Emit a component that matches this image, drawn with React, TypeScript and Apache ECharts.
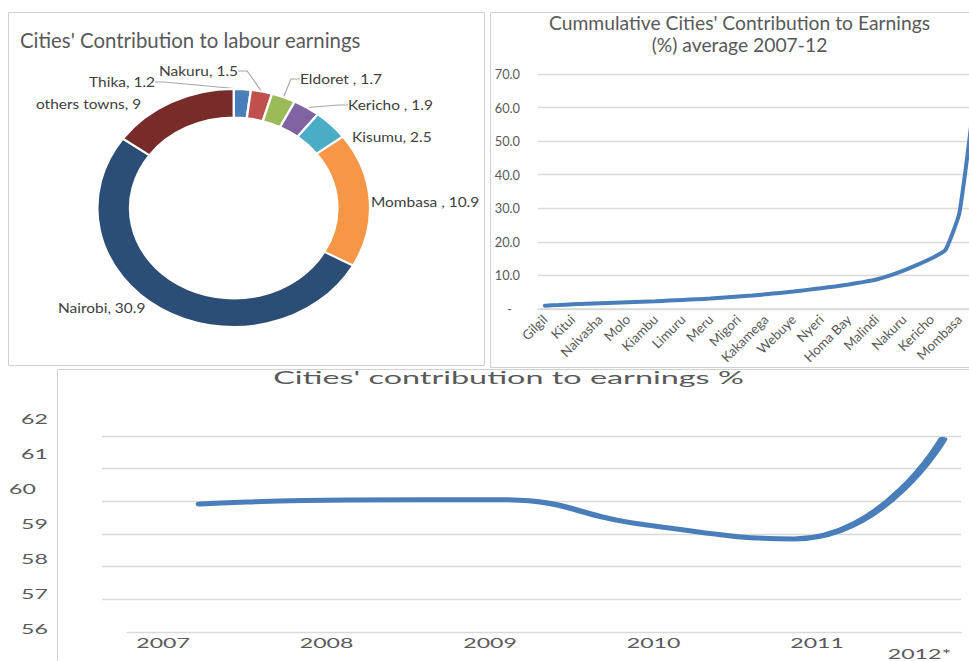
import React, { useEffect, useRef } from 'react';
import * as echarts from 'echarts';

const FONT = 'Lato, "Open Sans", sans-serif';
const TEXT = '#595959';
const LABEL = '#404040';
const GRID = '#d9d9d9';
const FRAME = '#d0d0d0';
const BLUE = '#4a7ebb';

// ---- Panel 1: donut
const pieNames = ['Thika', 'Nakuru', 'Eldoret ', 'Kericho ', 'Kisumu', 'Mombasa ', 'Nairobi', 'others towns'];
const pieValues = [1.2, 1.5, 1.7, 1.9, 2.5, 10.9, 30.9, 9];
const pieColors = ['#4a7ebb', '#c0504d', '#9bbb59', '#8064a2', '#4bacc6', '#f79646', '#2c4d75', '#772c2a'];
const pieWithLine = [true, true, true, true, false, false, false, false];

// ---- Panel 2: cumulative
const townNames = [
  'Gilgil', '', 'Kitui', '', 'Naivasha', '', 'Molo', '', 'Kiambu', '', 'Limuru', '', 'Meru', '', 'Migori', '',
  'Kakamega', '', 'Webuye', '', 'Nyeri', '', 'Homa Bay', '', 'Malindi', 'Thika', 'Nakuru', 'Eldoret', 'Kericho',
  'Kisumu', 'Mombasa', 'Nairobi',
];
const cumulative = [
  1.0, 1.2, 1.4, 1.55, 1.7, 1.85, 2.0, 2.15, 2.3, 2.5, 2.7, 2.9, 3.1, 3.4, 3.7, 4.0,
  4.4, 4.8, 5.2, 5.7, 6.2, 6.7, 7.3, 8.0, 8.8, 10.0, 11.5, 13.2, 15.1, 17.6, 28.5, 59.4,
];

// ---- Panel 3: yearly share
const years = ['2007', '2008', '2009', '2010', '2011', '2012*'];
const share = [59.92, 60.04, 60.05, 59.28, 58.85, 61.9];
const shareMin = 56;
const shareMax = 62;

// layout constants
const S1 = 1.146; // horizontal stretch of donut panel
const PIE_W = 477 / S1;
const S2 = 1.85; // horizontal stretch of bottom panel
const B_W = 1100 / S2;
const u1 = (x: number) => (x - 8) / S1;
const u2 = (x: number) => x / S2;

// label anchors for donut labels (page coords) : [x, y, align]
const pieLabelPos: [number, number, string][] = [
  [155, 82, 'right'],
  [238, 71, 'right'],
  [300, 79, 'left'],
  [348, 105, 'left'],
  [352, 137, 'left'],
  [371, 202, 'left'],
  [58, 308, 'left'],
  [36, 104, 'left'],
];

export default function App() {
  const mainRef = useRef<HTMLDivElement>(null);
  const pieRef = useRef<HTMLDivElement>(null);
  const botRef = useRef<HTMLDivElement>(null);

  useEffect(() => {
    const main = echarts.init(mainRef.current!, null, { renderer: 'svg' });
    const pie = echarts.init(pieRef.current!, null, { renderer: 'svg' });
    const bot = echarts.init(botRef.current!, null, { renderer: 'svg' });

    const frameLine = (x1: number, y1: number, x2: number, y2: number) => ({
      type: 'line',
      shape: { x1, y1, x2, y2 },
      style: { stroke: FRAME, lineWidth: 1 },
      silent: true,
    });

    main.setOption({
      animation: false,
      backgroundColor: '#fff',
      textStyle: { fontFamily: FONT },
      graphic: [
        { type: 'rect', shape: { x: 8.5, y: 12.5, width: 476, height: 353 }, style: { fill: 'none', stroke: FRAME, lineWidth: 1 }, silent: true },
        frameLine(490.5, 12.5, 1000, 12.5),
        frameLine(490.5, 12.5, 490.5, 368),
        frameLine(490.5, 367.5, 1000, 367.5),
        frameLine(57.5, 369.5, 1000, 369.5),
        frameLine(57.5, 369.5, 57.5, 661),
        {
          type: 'text', x: 20, y: 40,
          style: { text: "Cities' Contribution to labour earnings", fontFamily: FONT, fontSize: 20.4, fill: TEXT, align: 'left', verticalAlign: 'middle' },
        },
        {
          type: 'text', x: 739.5, y: 33,
          style: {
            text: "Cummulative Cities' Contribution to Earnings\n(%) average 2007-12",
            fontFamily: FONT, fontSize: 19.3, lineHeight: 22, fill: TEXT, align: 'center', verticalAlign: 'middle',
          },
        },
      ],
      grid: { left: 538, width: 442, top: 74, bottom: 352 },
      xAxis: {
        type: 'category',
        data: townNames,
        boundaryGap: true,
        axisLine: { lineStyle: { color: GRID, width: 1.5 } },
        axisTick: { show: false },
        axisLabel: { interval: 1, rotate: 45, margin: 8, fontSize: 13.3, color: TEXT, fontFamily: FONT },
      },
      yAxis: {
        type: 'value',
        min: 0,
        max: 70,
        interval: 10,
        axisLine: { show: false },
        axisTick: { show: false },
        splitLine: { lineStyle: { color: GRID, width: 1.3 } },
        axisLabel: {
          margin: 18,
          fontSize: 12.8,
          color: TEXT,
          fontFamily: FONT,
          formatter: (v: number) => (v === 0 ? '{d|-}' : v.toFixed(1)),
          rich: { d: { padding: [0, 8, 0, 0], fontSize: 12.8, color: TEXT, fontFamily: FONT } },
        },
      },
      series: [
        {
          type: 'line',
          data: cumulative,
          smooth: 0.15,
          symbol: 'none',
          lineStyle: { color: BLUE, width: 4, cap: 'round' },
        },
      ],
    });

    pie.setOption({
      animation: false,
      textStyle: { fontFamily: FONT },
      series: [
        {
          type: 'pie',
          center: [u1(233.7), 196],
          radius: [90.5, 119],
          startAngle: 90,
          clockwise: true,
          avoidLabelOverlap: false,
          itemStyle: { borderColor: '#fff', borderWidth: 2 },
          label: {
            show: true,
            position: 'outside',
            fontFamily: FONT,
            fontSize: 13.5,
            color: LABEL,
            formatter: (p: any) => `${p.name}, ${p.value}`,
          },
          labelLine: { show: true, length: 10, length2: 8, lineStyle: { color: '#a6a6a6', width: 1 } },
          labelLayout: (params: any) => {
            const p = pieLabelPos[params.dataIndex];
            return { x: u1(p[0]), y: p[1] - 12, align: p[2], verticalAlign: 'middle' };
          },
          data: pieNames.map((name, i) => ({
            name,
            value: pieValues[i],
            itemStyle: { color: pieColors[i] },
            labelLine: { show: pieWithLine[i] },
          })),
        },
      ],
    });

    const yTickCount = shareMax - shareMin;
    bot.setOption({
      animation: false,
      textStyle: { fontFamily: FONT },
      graphic: [
        {
          type: 'text', x: u2(508.5), y: 17,
          style: { text: "Cities' contribution to earnings %", fontFamily: FONT, fontSize: 17.5, fill: TEXT, align: 'center', verticalAlign: 'middle' },
        },
      ],
      grid: [
        { left: u2(126), width: u2(891), top: 76, bottom: 29 },
        { left: u2(102), width: u2(961 - 102), top: 76, bottom: 29 },
        { left: u2(128), width: u2(961 - 128), top: 76, bottom: 29 },
        { left: u2(81.3), width: u2(981), top: 76, bottom: 29 },
        { left: 30, width: 10, top: 59, bottom: 32 },
      ],
      xAxis: [
        { gridIndex: 0, type: 'category', data: years, boundaryGap: true, show: false },
        { gridIndex: 1, type: 'value', min: 0, max: 1, show: false },
        {
          gridIndex: 2, type: 'category', data: years, boundaryGap: true,
          axisLine: { onZero: false, lineStyle: { color: GRID, width: 1.3 } },
          axisTick: { show: false }, axisLabel: { show: false },
        },
        {
          gridIndex: 3, type: 'category', boundaryGap: true,
          data: years.map((y, i) => (i === years.length - 1 ? { value: y, textStyle: { padding: [11, 66, 0, 0] } } : y)),
          axisLine: { show: false }, axisTick: { show: false },
          axisLabel: { interval: 0, margin: 8, fontSize: 12.5, color: TEXT, fontFamily: FONT },
        },
        { gridIndex: 4, type: 'value', show: false },
      ],
      yAxis: [
        { gridIndex: 0, type: 'value', min: shareMin, max: shareMax, show: false },
        {
          gridIndex: 1, type: 'value', min: shareMin, max: shareMax, interval: 1,
          axisLine: { show: false }, axisTick: { show: false }, axisLabel: { show: false },
          splitLine: { show: true, showMinLine: false, lineStyle: { color: GRID, width: 1.3 } },
        },
        { gridIndex: 2, type: 'value', min: shareMin, max: shareMax, show: false },
        { gridIndex: 3, type: 'value', min: shareMin, max: shareMax, show: false },
        {
          gridIndex: 4, type: 'value', min: shareMin, max: shareMax, interval: 1, splitNumber: yTickCount,
          axisLine: { show: false }, axisTick: { show: false }, splitLine: { show: false },
          axisLabel: {
            margin: 4.1, fontSize: 12.5, color: TEXT, fontFamily: FONT,
            formatter: (v: number) => (v === 60 ? '{s|60}' : String(v)),
            rich: { s: { padding: [0, 6.5, 0, 0], fontSize: 12.5, color: TEXT, fontFamily: FONT } },
          },
        },
      ],
      series: [
        {
          type: 'line',
          xAxisIndex: 0,
          yAxisIndex: 0,
          data: share,
          smooth: 0.5,
          symbol: 'none',
          lineStyle: { color: BLUE, width: 5, cap: 'round' },
        },
      ],
    });

    return () => {
      main.dispose();
      pie.dispose();
      bot.dispose();
    };
  }, []);

  return (
    <div style={{ position: 'fixed', left: 0, top: 0, width: 969, height: 661, overflow: 'hidden', background: '#fff' }}>
      <div ref={mainRef} style={{ position: 'absolute', left: 0, top: 0, width: 1000, height: 661 }} />
      <div
        ref={pieRef}
        style={{ position: 'absolute', left: 8, top: 12, width: PIE_W, height: 353, transform: `scaleX(${S1})`, transformOrigin: '0 0' }}
      />
      <div
        ref={botRef}
        style={{ position: 'absolute', left: 0, top: 360, width: B_W, height: 301, transform: `scaleX(${S2})`, transformOrigin: '0 0' }}
      />
    </div>
  );
}
